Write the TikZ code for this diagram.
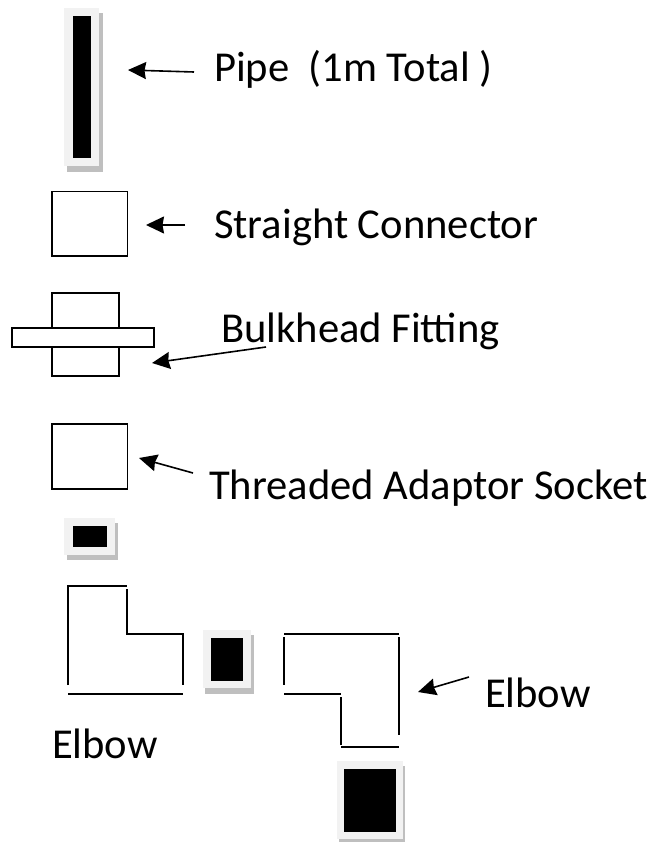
\documentclass[tikz,border=0pt]{standalone}
\usepackage{fontspec}
\setmainfont{Carlito}
\usetikzlibrary{arrows.meta}
\definecolor{glow}{HTML}{F2F2F2}
\definecolor{shade}{HTML}{BFBFBF}
\tikzset{
  x=1pt,y=-1pt,
  partbox/.style={draw=black,fill=white,line width=1.7pt,inner sep=0pt,outer sep=0pt},
  wall/.style={draw=black,line width=1.8pt},
  label/.style={anchor=base west,inner sep=0pt,outer sep=0pt,font=\fontsize{42.6}{46}\selectfont,text=black},
  pointer/.style={draw=black,line width=1.6pt,-{Stealth[length=18pt,width=17pt,inset=1.5pt]}},
  plughalo/.style={fill=glow,draw=none},
  plugshade/.style={fill=shade,draw=none},
  plugcore/.style={fill=black,draw=none},
}
\begin{document}
\begin{tikzpicture}
\useasboundingbox (0,0) rectangle (653,842);
% pipe
\fill[plugshade] (67,13) rectangle (102.5,172.5);
\fill[plughalo] (64,8) rectangle (99,166);
\fill[plugcore] (72.5,16) rectangle (91,158);
% straight connector
\node[partbox,minimum width=75.5pt,minimum height=64.5pt] (straight) at (89.75,223.75) {};
% bulkhead
\node[partbox,minimum width=67pt,minimum height=83pt] (bulkbody) at (85.5,334.5) {};
\node[partbox,minimum width=142pt,minimum height=19pt] (flange) at (83,337.5) {};
% threaded socket
\node[partbox,minimum width=75.5pt,minimum height=65pt] (socket) at (89.75,456.5) {};
% small plug
\fill[plugshade] (67,523) rectangle (117.5,560);
\fill[plughalo] (64,518) rectangle (115,555);
\fill[plugcore] (72.5,526) rectangle (107,547);
% left elbow
\draw[wall] (68,685) -- (68,586) -- (127,586);
\draw[wall] (127,589) -- (127,634) -- (183,634) -- (183,685);
\draw[wall] (68,694) -- (183,694);
% middle plug
\fill[plugshade] (205,635) rectangle (253.5,694);
\fill[plughalo] (203,630) rectangle (251,688);
\fill[plugcore] (211,638) rectangle (243,681);
% right elbow
\draw[wall] (284,634) -- (399,634);
\draw[wall] (284,637) -- (284,685);
\draw[wall] (284,694) -- (341,694);
\draw[wall] (341,697) -- (341,745);
\draw[wall] (341,747) -- (399,747);
\draw[wall] (399,637) -- (399,735);
% bottom plug
\fill[plugshade] (339,766) rectangle (405,842);
\fill[plughalo] (337,761) rectangle (403,839);
\fill[plugcore] (344,769) rectangle (396,832);
% labels
\node[label] (lpipe) at (214,82) {Pipe\ \ (1m Total )};
\node[label] (lstraight) at (214,238) {Straight Connector};
\node[label] (lbulk) at (221,342) {Bulkhead Fitting};
\node[label] (lsocket) at (209,499) {Threaded Adaptor Socket};
\node[label] (lelbowr) at (485,707) {Elbow};
\node[label] (lelbowl) at (52,758) {Elbow};
% pointer ends
\coordinate (a1s) at (194,72); \coordinate (a1e) at (128,70);
\coordinate (a2s) at (185,225); \coordinate (a2e) at (146,225);
\coordinate (a3s) at (266,347); \coordinate (a3e) at (152,363);
\coordinate (a4s) at (193,473); \coordinate (a4e) at (139,458);
\coordinate (a5s) at (469,677); \coordinate (a5e) at (418,692);
\draw[pointer] (a1s) -- (a1e);
\draw[pointer] (a2s) -- (a2e);
\draw[pointer] (a3s) -- (a3e);
\draw[pointer] (a4s) -- (a4e);
\draw[pointer] (a5s) -- (a5e);
\end{tikzpicture}
\end{document}
